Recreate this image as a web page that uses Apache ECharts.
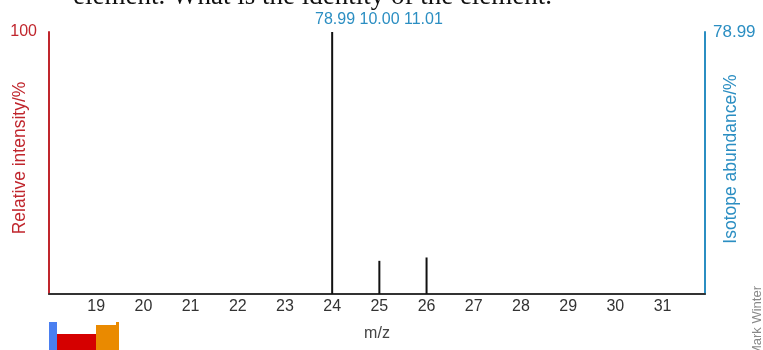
<!DOCTYPE html>
<html>
<head>
<meta charset="utf-8">
<script src="https://cdn.jsdelivr.net/npm/echarts@6/dist/echarts.min.js"></script>
<style>html,body{margin:0;padding:0;background:#fff}#main{width:763px;height:350px}</style>
</head>
<body>
<div id="main"></div>
<script>
var massNumbers=[24,25,26];
var abundances=[78.99,10.00,11.01];
var xTicks=[19,20,21,22,23,24,25,26,27,28,29,30,31];

var red='#c0262d',blue='#2b8ec2',font='Liberation Sans';
var myChart=echarts.init(document.getElementById('main'));

var option={
  animation:false,
  textStyle:{fontFamily:font},
  title:{
    text:abundances.map(function(v){return v.toFixed(2);}).join(' '),
    left:310,top:7,
    textStyle:{color:blue,fontSize:16,fontWeight:'normal',fontFamily:font}
  },
  grid:{left:49,right:58,top:32,bottom:56,outerBoundsMode:'none',containLabel:false},
  xAxis:{
    type:'value',min:18,max:31.9,interval:1,
    name:'m/z',nameLocation:'middle',nameGap:32,nameMoveOverlap:false,
    nameTextStyle:{color:'#444',fontSize:16},
    axisLine:{lineStyle:{color:'#333',width:2}},
    axisTick:{show:false},splitLine:{show:false},
    axisLabel:{color:'#333',fontSize:16,margin:5,
      formatter:function(v){return xTicks.indexOf(v)>=0?String(v):'';}}
  },
  yAxis:[{
    type:'value',min:0,max:100,interval:100,position:'left',
    name:'Relative intensity/%',nameLocation:'middle',nameGap:20,nameRotate:90,nameMoveOverlap:false,
    nameTextStyle:{color:red,fontSize:17.5,padding:[0,0,0,10]},
    axisLine:{show:true,lineStyle:{color:red,width:2}},
    axisTick:{show:false},splitLine:{show:false},
    axisLabel:{color:red,fontSize:16,margin:12,formatter:function(v){return v===100?'100':'';}}
  },{
    type:'value',min:0,max:abundances[0],interval:abundances[0],position:'right',
    name:'Isotope abundance/%',nameLocation:'middle',nameGap:17,nameRotate:90,nameMoveOverlap:false,
    nameTextStyle:{color:blue,fontSize:17.5,padding:[0,0,0,8]},
    axisLine:{show:true,lineStyle:{color:blue,width:2}},
    axisTick:{show:false},splitLine:{show:false},
    axisLabel:{color:blue,fontSize:17,margin:8,formatter:function(v){return v===abundances[0]?v.toFixed(2):'';}}
  }],
  series:[{
    type:'bar',yAxisIndex:1,barWidth:2,
    itemStyle:{color:'#111'},
    data:massNumbers.map(function(m,i){return [m,abundances[i]];})
  }],
  graphic:[
    {type:'text',left:73,top:-17,style:{text:'element. What is the identity of the element.',fontFamily:'Liberation Serif',fontSize:27,fill:'#111'}},
    {type:'text',x:757,y:286,rotation:Math.PI/2,style:{text:'Mark Winter',fontFamily:font,fontSize:13,fill:'#888',textAlign:'right',textVerticalAlign:'middle'}},
    {type:'rect',shape:{x:49,y:322,width:8,height:28},style:{fill:'#4a7ff0'}},
    {type:'rect',shape:{x:57,y:334,width:39,height:16},style:{fill:'#d50000'}},
    {type:'rect',shape:{x:96,y:325,width:23,height:25},style:{fill:'#ea8a00'}},
    {type:'rect',shape:{x:116,y:322,width:3,height:4},style:{fill:'#ea8a00'}}
  ]
};

myChart.setOption(option);
</script>
</body>
</html>
